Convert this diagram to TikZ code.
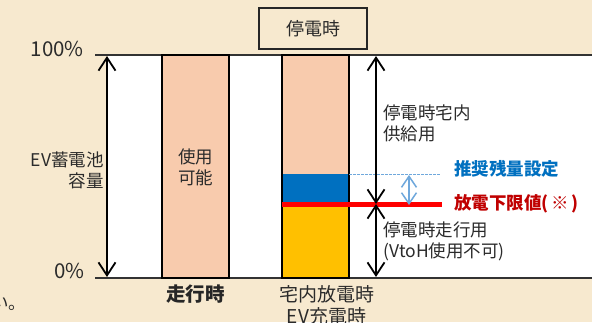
\documentclass[tikz,border=0pt]{standalone}
\usepackage{fontspec}
\setmainfont{Noto Sans CJK JP}
\usetikzlibrary{arrows.meta}
\definecolor{bgc}{HTML}{F7E9CF}
\definecolor{peach}{HTML}{F8CBAD}
\definecolor{barblue}{HTML}{0070C0}
\definecolor{baryellow}{HTML}{FFC000}
\definecolor{barred}{HTML}{FF0000}
\definecolor{txtblue}{HTML}{0070C0}
\definecolor{txtred}{HTML}{C00000}
\definecolor{lblue}{HTML}{6FA8DC}
\definecolor{txt}{HTML}{2B2B2B}
\begin{document}
\begin{tikzpicture}[x=1pt,y=-1pt,
  lbl/.style={font=\fontsize{17.5}{21}\selectfont, text=txt, inner sep=0pt, align=left},
  pct/.style={font=\fontsize{20.5}{21}\selectfont, text=txt, inner sep=0pt},
  botlbl/.style={font=\fontsize{19}{22}\selectfont, text=txt, inner sep=0pt, align=center},
  boldlbl/.style={font=\fontsize{19.5}{22}\selectfont\bfseries, text=black!85, inner sep=0pt},
  keylbl/.style={font=\fontsize{17.5}{21}\selectfont\bfseries, inner sep=0pt, anchor=west},
  barbox/.style={draw=black, line width=1.2pt},
  dimarrow/.style={line width=1.8pt, black, {Straight Barb[length=13pt,width=17pt]}-{Straight Barb[length=13pt,width=17pt]}},
  bluearrow/.style={line width=1.5pt, lblue, {Straight Barb[length=11pt,width=15pt]}-{Straight Barb[length=11pt,width=15pt]}},
  ]
\useasboundingbox (0,0) rectangle (592,322);
\fill[bgc] (0,0) rectangle (592,322);
\fill[white] (108,55) rectangle (592,278);

% base lines
\coordinate (topL) at (95,55);
\coordinate (topR) at (592,55);
\coordinate (botL) at (95,278);
\coordinate (botR) at (592,278);
\draw[line width=1.2pt, black!80] (topL) -- (topR);
\draw[line width=1.2pt, black!80] (botL) -- (botR);

% bar 1
\node[barbox, fill=peach, minimum width=67pt, minimum height=223pt, inner sep=0pt] (bar1) at (195.5,166.5) {};
\node[lbl, align=center] (usable) at (195.5,167) {使用\\可能};

% bar 2
\fill[peach] (282,55) rectangle (349,174);
\fill[barblue] (282,174) rectangle (349,203);
\fill[baryellow] (282,203) rectangle (349,278);
\node[barbox, minimum width=67pt, minimum height=223pt, inner sep=0pt] (bar2) at (315.5,166.5) {};

% recommended level dashed line
\coordinate (recA) at (349,174);
\coordinate (recB) at (440,174);
\draw[lblue, line width=0.8pt, dash pattern=on 2.5pt off 1.5pt] (recA) -- (recB);

% red lower-limit line
\coordinate (redA) at (282,204.5);
\coordinate (redB) at (442,204.5);
\draw[barred, line width=5pt] (redA) -- (redB);

% left capacity arrow
\coordinate (la1) at (107,56);
\coordinate (la2) at (107,277);
\draw[dimarrow] (la1) -- (la2);

% right arrows
\coordinate (ra1) at (376,56);
\coordinate (ra2) at (376,204);
\coordinate (ra3) at (376,277);
\draw[dimarrow] (ra1) -- (ra2);
\draw[dimarrow] (ra2) -- (ra3);

% blue small arrow
\coordinate (ba1) at (409,175);
\coordinate (ba2) at (409,205);
\draw[bluearrow] (ba1) -- (ba2);

% title box
\node[draw=black!85, line width=1.2pt, fill=bgc, minimum width=108pt, minimum height=41pt, inner sep=0pt,
      font=\fontsize{18}{21}\selectfont, text=txt] (outage) at (313,28.5) {停電時};

% percentages
\node[pct, anchor=east] (p100) at (84,48.5) {100\%};
\node[pct, anchor=east] (p0) at (85,271) {0\%};

% EV capacity label
\node[lbl, align=right, anchor=east] (evcap) at (104,170) {EV蓄電池\\容量};

% right labels
\node[lbl, anchor=west] (supply) at (383,123) {停電時宅内\\供給用};
\node[lbl, anchor=west] (drive) at (383,241.5) {停電時走行用\\(VtoH使用不可)};
\node[keylbl, text=txtblue] (rec) at (454,168.5) {推奨残量設定};
\node[keylbl, text=txtred] (lower) at (454,203.5) {放電下限値(\hspace{2.5pt}※\hspace{2.5pt})};

% bottom labels
\node[boldlbl] (running) at (195.5,294.5) {走行時};
\node[botlbl] (home) at (326.5,305) {宅内放電時\\EV充電時};

% clipped fragment
\node[lbl, anchor=west] (frag) at (-9,304) {い。};
\end{tikzpicture}
\end{document}
